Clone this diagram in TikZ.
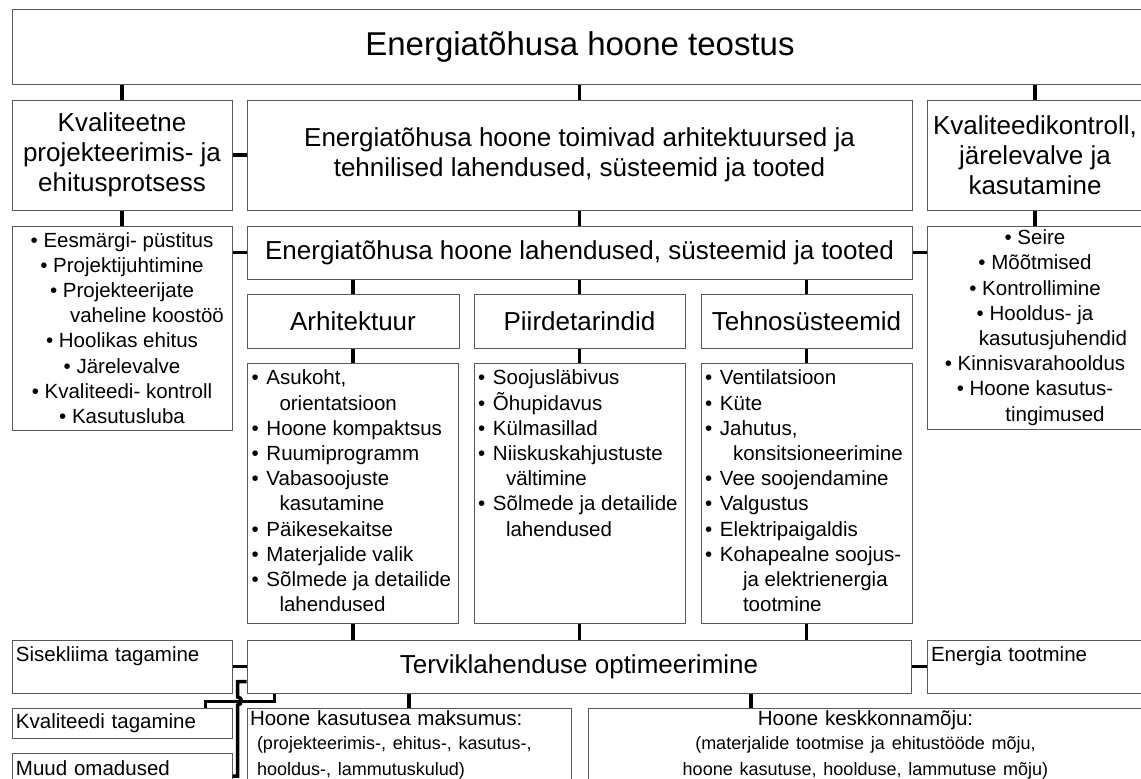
\documentclass[tikz,border=0pt]{standalone}
\usepackage{fontspec}
\setmainfont{Liberation Sans}
\newcommand{\hdfont}{\fontsize{26pt}{30pt}\selectfont}
\newcommand{\lstfont}{\fontsize{20.5pt}{25.2pt}\selectfont}
\newcommand{\smfont}{\fontsize{18pt}{21pt}\selectfont}
\newcommand{\bul}{\hspace*{4pt}\makebox[15pt][l]{\textbullet}}
\newcommand{\cnt}[1][0pt]{\hspace*{\dimexpr32pt+#1\relax}}
\newcommand{\lst}[1]{\parbox[c][260pt][t]{211pt}{\lstfont\raggedright\vspace*{7pt}#1}}

\begin{document}
\begin{tikzpicture}[x=1pt, y=-1pt,
	box/.style={draw=black!65, line width=1pt, fill=white, inner sep=2pt},
	hd/.style={font=\hdfont, align=center},
	lt/.style={font=\lstfont, align=center},
	tl/.style={font=\lstfont, align=left, inner xsep=4pt},
	conn/.style={line width=3.5pt}]
	\path[use as bounding box, fill=white] (0,0) rectangle (1141,779);

	\node[box, minimum width=1136pt, minimum height=75pt, font=\fontsize{33pt}{36pt}\selectfont] (titl) at (580,46.5) {Energiatõhusa hoone teostus};

	\node[box, hd, minimum width=220pt, minimum height=110pt] (kval) at (122,155) {Kvaliteetne\\projekteerimis- ja\\ehitusprotsess};
	\node[box, hd, minimum width=665pt, minimum height=110pt] (lahend) at (579.5,155) {Energiatõhusa hoone toimivad arhitektuursed ja\\tehnilised lahendused, süsteemid ja tooted};
	\node[box, hd, minimum width=216pt, minimum height=110pt] (kontr) at (1035,155) {Kvaliteedikontroll,\\järelevalve ja\\kasutamine};

	\node[box, lt, minimum width=220pt, minimum height=204pt] (kvalbul) at (122,328) {\textbullet\ Eesmärgi- püstitus\\ \textbullet\ Projektijuhtimine\\ \textbullet\ Projekteerijate\\ \hspace*{50pt}vaheline koostöö\\ \textbullet\ Hoolikas ehitus\\ \textbullet\ Järelevalve\\ \textbullet\ Kvaliteedi- kontroll\\ \textbullet\ Kasutusluba};
	\node[box, hd, minimum width=665pt, minimum height=53pt] (lahsys) at (579.5,252.5) {Energiatõhusa hoone lahendused, süsteemid ja tooted};
	\node[box, lt, minimum width=216pt, minimum height=203pt] (kontrbul) at (1035,327.5) {\textbullet\ Seire\\ \textbullet\ Mõõtmised\\ \textbullet\ Kontrollimine\\ \textbullet\ Hooldus- ja\\ \hspace*{36pt}kasutusjuhendid\\ \textbullet\ Kinnisvarahooldus\\ \textbullet\ Hoone kasutus-\\ \hspace*{40pt}tingimused};

	\node[box, hd, minimum width=212pt, minimum height=54pt] (arh) at (353,321) {Arhitektuur};
	\node[box, hd, minimum width=211pt, minimum height=54pt] (piir) at (579.5,321) {Piirdetarindid};
	\node[box, hd, minimum width=211pt, minimum height=54pt] (tehno) at (806.5,321) {Tehnosüsteemid};

	\node[box, inner sep=0pt] (arh-lst) at (353,493) {\lst{\bul Asukoht,\\ \cnt orientatsioon\\ \bul Hoone kompaktsus\\ \bul Ruumiprogramm\\ \bul Vabasoojuste\\ \cnt kasutamine\\ \bul Päikesekaitse\\ \bul Materjalide valik\\ \bul Sõlmede ja detailide\\ \cnt lahendused}};
	\node[box, inner sep=0pt] (piir-lst) at (579.5,493) {\lst{\bul Soojusläbivus\\ \bul Õhupidavus\\ \bul Külmasillad\\ \bul Niiskuskahjustuste\\ \cnt vältimine\\ \bul Sõlmede ja detailide\\ \cnt lahendused}};
	\node[box, inner sep=0pt] (tehno-lst) at (806.5,493) {\lst{\bul Ventilatsioon\\ \bul Küte\\ \bul Jahutus,\\ \cnt konsitsioneerimine\\ \bul Vee soojendamine\\ \bul Valgustus\\ \bul Elektripaigaldis\\ \bul Kohapealne soojus-\\ \cnt[10pt]ja elektrienergia\\ \cnt[10pt]tootmine}};

	\node[box, hd, minimum width=664pt, minimum height=53pt] (optim) at (579,666.5) {Terviklahenduse optimeerimine};
	\node[box, tl, minimum width=220pt, minimum height=53pt, text width=212pt] (sise) at (122,666.5) {Sisekliima tagamine\\[-8pt] \strut};
	\node[box, tl, minimum width=216pt, minimum height=53pt, text width=208pt] (energia) at (1035,666.5) {Energia tootmine\\[-8pt] \strut};

	\node[box, tl, minimum width=220pt, minimum height=30pt, text width=212pt] (kvalt) at (122,723) {Kvaliteedi tagamine};
	\node[box, tl, minimum width=220pt, minimum height=30pt, text width=212pt] (muud) at (122,768) {Muud omadused};
	\node[box, tl, inner xsep=3pt, minimum width=324pt, minimum height=74pt, text width=318pt] (maks) at (409,745) {Hoone kasutusea maksumus:\\[3pt] \smfont\hspace*{7pt}(projekteerimis-, ehitus-, kasutus-,\\ \hspace*{7pt}hooldus-, lammutuskulud)};
	\node[box, lt, minimum width=555pt, minimum height=74pt, text width=547pt] (kesk) at (865.5,745) {Hoone keskkonnamõju:\hspace*{12pt}\\[3pt] \smfont (materjalide tootmise ja ehitustööde mõju,\hspace*{12pt}\\ hoone kasutuse, hoolduse, lammutuse mõju)\hspace*{12pt}};

	\draw[conn] (kval.north) -- (kval.north |- titl.south);
	\draw[conn] (lahend.north) -- (lahend.north |- titl.south);
	\draw[conn] (kontr.north) -- (kontr.north |- titl.south);
	\draw[conn] (kval.east) -- (lahend.west);
	\draw[conn] (kval.south) -- (kvalbul.north);
	\draw[conn] (lahend.south) -- (lahsys.north);
	\draw[conn] (kontr.south) -- (kontrbul.north);
	\draw[conn] (lahsys.west) -- (lahsys.west -| kvalbul.east);
	\draw[conn] (lahsys.east) -- (lahsys.east -| kontrbul.west);
	\foreach \n in {arh,piir,tehno} {
		\draw[conn] (\n.north) -- (\n.north |- lahsys.south);
		\draw[conn] (\n.south) -- (\n-lst.north);
		\draw[conn] (\n-lst.south) -- (\n-lst.south |- optim.north);
	}
	\draw[conn] (optim.west) -- (sise.east);
	\draw[conn] (optim.east) -- (energia.west);
	\draw[conn] (maks.north) -- (maks.north |- optim.south);
	\draw[conn] ([xshift=172pt]optim.south) -- ([xshift=172pt]optim.south |- kesk.north);
	\draw[conn] ([xshift=28pt]optim.south west) -- ++(0,8) -| ([xshift=-27pt]kvalt.north east);
	\draw[conn] ([yshift=-15pt]optim.west) -- ++(-9,0) -- ++(0,15.5) arc[start angle=90, end angle=-90, radius=4pt] |- ([yshift=-8pt]muud.east);
\end{tikzpicture}
\end{document}
